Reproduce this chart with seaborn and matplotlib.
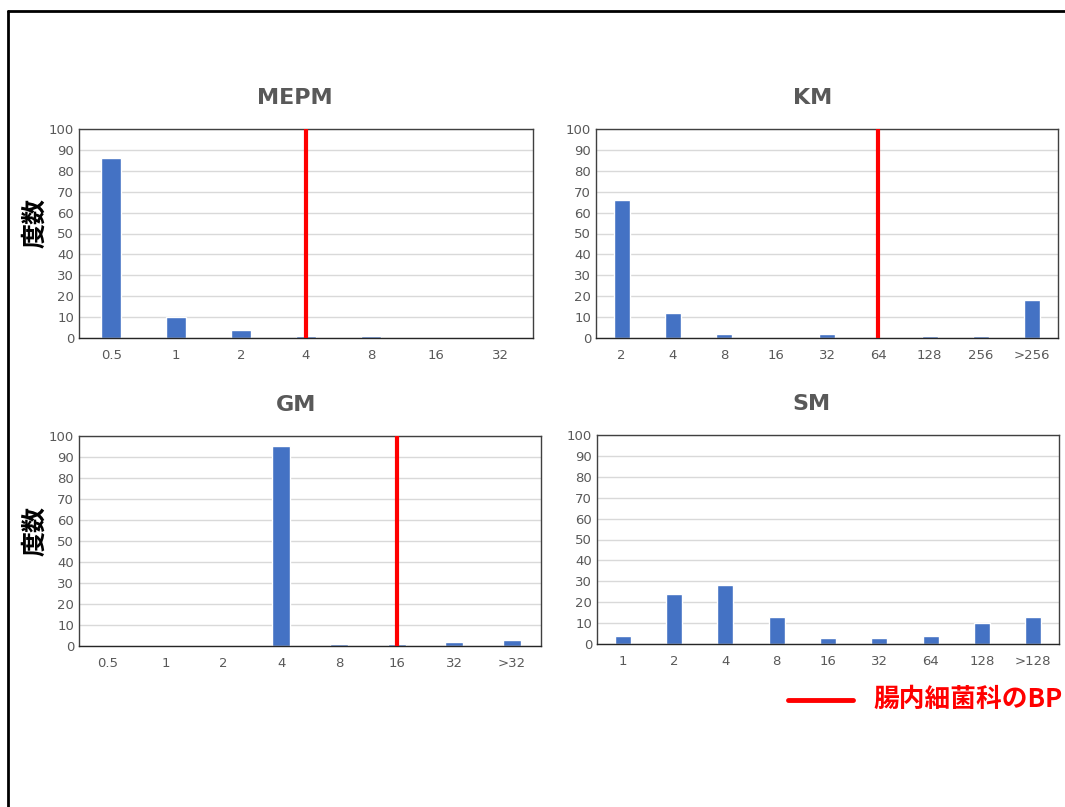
import matplotlib
matplotlib.use("Agg")
import matplotlib.pyplot as plt
from matplotlib.lines import Line2D
import seaborn as sns

sns.set_style("white")
plt.rcParams['font.family'] = ['DejaVu Sans', 'Noto Sans CJK JP']

# data
mepm_cats = ['0.5', '1', '2', '4', '8', '16', '32']
mepm_vals = [86, 10, 4, 1, 1, 0, 0]
mepm_bp = '4'

km_cats = ['2', '4', '8', '16', '32', '64', '128', '256', '>256']
km_vals = [66, 12, 2, 0, 2, 0, 1, 1, 18]
km_bp = '64'

gm_cats = ['0.5', '1', '2', '4', '8', '16', '32', '>32']
gm_vals = [0, 0, 0, 95, 1, 1, 2, 3]
gm_bp = '16'

sm_cats = ['1', '2', '4', '8', '16', '32', '64', '128', '>128']
sm_vals = [4, 24, 28, 13, 3, 3, 4, 10, 13]
sm_bp = None

# title, categories, values, breakpoint, axes box in pixels, title x, y label
panels = [
    ('MEPM', mepm_cats, mepm_vals, mepm_bp, [79, 129, 533, 338], 0.476, True),
    ('KM', km_cats, km_vals, km_bp, [596, 129, 1058, 338], 0.468, False),
    ('GM', gm_cats, gm_vals, gm_bp, [79, 436, 541, 646], 0.47, True),
    ('SM', sm_cats, sm_vals, sm_bp, [597, 435, 1059, 644], 0.465, False),
]

W, H = 1065, 807
fig = plt.figure(figsize=(W / 100, H / 100), dpi=100)
fig.patch.set_facecolor('white')

bar_color = '#4472C4'
text_gray = '#595959'

for title, cats, vals, bp, (x0, y0, x1, y1), tx, show_ylabel in panels:
    ax = fig.add_axes([x0 / W, 1 - y1 / H, (x1 - x0) / W, (y1 - y0) / H])
    sns.barplot(x=cats, y=vals, ax=ax, color=bar_color, width=0.31,
                saturation=1, order=cats)
    ax.set_xlim(-0.5, len(cats) - 0.5)
    ax.set_ylim(0, 100)
    ax.set_yticks(range(0, 101, 10))
    ax.yaxis.grid(True, color='#d9d9d9', lw=1)
    ax.set_axisbelow(True)
    ax.tick_params(axis='both', length=0, labelsize=9.5, colors=text_gray)
    ax.tick_params(axis='x', pad=8)
    for s in ax.spines.values():
        s.set_color('#404040')
        s.set_linewidth(1)
    ax.spines['bottom'].set_color('#262626')
    if bp is not None:
        ax.axvline(cats.index(bp), color='#FF0000', lw=3, zorder=5)
    ax.set_title(title, fontsize=16, fontweight='bold', color=text_gray,
                 pad=18, x=tx)
    ax.set_xlabel('')
    if show_ylabel:
        fig.text(35 / W, 1 - ((y0 + y1) / 2 - 10) / H, '度数', rotation=90,
                 fontsize=18, fontweight='bold', color='black',
                 family=['Noto Sans CJK JP'], ha='center', va='center')

# legend for the breakpoint line
fig.add_artist(Line2D([788 / W, 853 / W], [1 - 700 / H, 1 - 700 / H],
                      color='#FF0000', lw=3.5))
fig.text(873 / W, 1 - 699 / H, '腸内細菌科のBP', color='#FF0000',
         fontsize=18.5, fontweight='bold', family=['Noto Sans CJK JP'],
         ha='left', va='center')

# slide frame
fig.add_artist(Line2D([8 / W, 1.0], [1 - 11 / H, 1 - 11 / H], color='black', lw=2))
fig.add_artist(Line2D([8 / W, 8 / W], [0, 1 - 11 / H], color='black', lw=2))

fig.savefig('out.png', dpi=100, facecolor='white')
